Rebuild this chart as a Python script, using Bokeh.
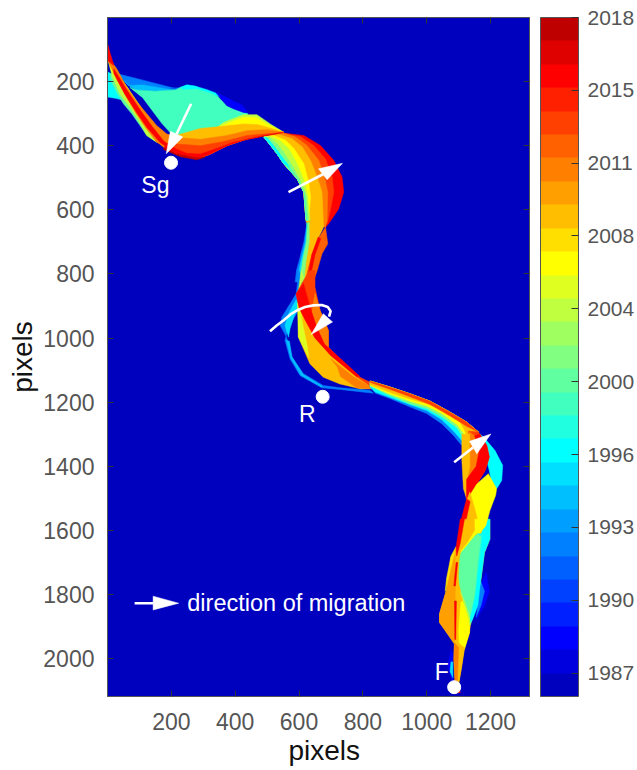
from bokeh.embed import file_html
from bokeh.resources import INLINE
from bokeh.plotting import figure
from bokeh.models import (ColumnDataSource, LinearColorMapper, ColorBar, FixedTicker, LinearAxis, Range1d, Title)
from bokeh.core.properties import value

# colour classes, oldest to newest (band 1 .. 29)
palette = ["#0000BF","#0000DF","#0000FF","#0020FF","#0040FF","#0060FF","#0080FF","#009FFF","#00BFFF","#00DFFF",
           "#00FFFF","#20FFDF","#40FFBF","#60FF9F","#80FF80","#9FFF60","#BFFF40","#DFFF20","#FFFF00","#FFDF00",
           "#FFBF00","#FF9F00","#FF8000","#FF6000","#FF4000","#FF2000","#FF0000","#DF0000","#BF0000"]
cbar_ticks = [1.5,4.61,7.72,10.83,13.94,17.06,20.17,23.28,26.39,29.5]
cbar_labels = ["1987","1990","1993","1996","2000","2004","2008","2011","2015","2018"]
x_ticks = [200,400,600,800,1000,1200]
y_ticks = [200,400,600,800,1000,1200,1400,1600,1800,2000]

# ---- upstream reach: old channel areas
a_blue = [(34,176),(90,190),(160,208),(222,224),(240,218),(185,222),(110,210),(65,212),(50,195)]
a_lblue = [(50,195),(65,212),(110,210),(185,222),(235,226),(150,230),(91,226),(70,215)]
a_teal = [(70,218),(91,226),(150,230),(213,226),(228,218),(249,212),(275,218),(291,223),(312,228),(338,238),(353,254),(374,275),(395,285),(426,296),(440,300),(426,320),(370,345),(290,355),(206,370),(170,330),(110,250)]
a_cyan = [(228,218),(249,210),(275,214),(291,219),(312,225),(345,238),(353,248),(320,234),(280,222),(237,224)]
a_dark = [(340,235),(375,250),(395,262),(420,272),(440,296),(426,296),(395,285),(374,275),(353,250)]
l_cyan = [(1,170),(40,190),(76,260),(50,258),(29,253),(1,248)]
l_green = [(8,175),(60,215),(120,310),(154,389),(123,368),(102,337),(76,300),(50,269),(30,235),(12,200)]
l_lime = [(1,130),(40,190),(75,240),(105,290),(145,350),(165,390),(154,389),(123,368),(100,325),(70,280),(40,240),(15,185)]
l_yellow = [(5,135),(60,215),(105,280),(150,355),(135,345),(105,310),(70,262),(35,205),(10,160)]
# ---- upstream reach: recent belt
low_a = [(552,358),(490,368),(437,379),(374,400),(322,426),(286,439),(239,431),(187,410),(150,384)]
b_lime = [(340,345),(364,327),(426,303),(468,303),(510,332),(552,358),(480,345),(400,340)]
b_yellow = [(350,342),(380,328),(426,311),(465,311),(500,332),(552,358),(470,345),(400,345)]
b_gold = [(206,370),(239,361),(291,346),(345,341),(390,336),(426,332),(470,334),(510,345)] + low_a
b_orange = [(225,375),(291,380),(374,368),(437,353),(500,350)] + low_a
b_rorange = [(207,394),(291,400),(364,387),(437,368)] + low_a
b_red = [(155,374),(202,405),(249,424),(291,426),(333,412),(395,389)] + low_a
b_dark = [(176,405),(228,428),(280,438),(305,436),(280,444),(228,434),(176,412)]
t_orange = [(1,120),(29,160),(60,217),(91,262),(123,300),(154,337),(185,363),(206,370),(176,405),(150,384),(120,345),(90,300),(60,250),(30,195),(1,135)]
t_red = [(20,160),(60,225),(100,285),(140,340),(176,385),(228,420),(215,425),(165,390),(125,345),(90,295),(55,240),(20,175)]
t_tip = [(1,85),(8,110),(20,150),(1,135)]

# ---- first bend
inner = [(622,633),(615,545),(594,503),(552,456),(531,425),(511,399),(490,373)]
c_red = [(552,361),(615,368),(667,399),(709,446),(735,498),(740,545),(724,597),(693,643),(683,654)] + inner
c_rorange = [(552,361),(604,371),(646,399),(683,441),(704,498),(709,545),(698,602),(688,643)] + inner
c_orange = [(552,361),(589,373),(625,399),(662,446),(680,498),(690,545),(688,633),(683,654)] + inner
c_gold = [(537,365),(578,378),(610,404),(636,446),(657,498),(672,545),(677,654),(662,685),(646,727),(630,779),(620,820),(612,820),(620,758),(630,700)] + inner
c_yellow = [(521,368),(558,383),(584,409),(615,456),(630,513),(636,560),(630,633)] + inner
c_lime = [(513,371),(542,385),(568,409),(594,456),(615,508),(627,555),(634,633)] + inner
c_green = [(505,373),(531,394),(552,420),(578,461),(604,508),(623,560),(630,633)] + inner
c_teal = [(495,375),(516,399),(537,425),(563,456),(599,508),(617,550),(625,633)] + inner
c_cyan0 = [(490,373),(500,375),(525,405),(545,432),(570,465),(552,456),(531,425),(511,399)]
c_blue = [(625,640),(615,700),(600,760),(592,789),(588,825),(600,825),(612,760),(622,700),(628,650)]
c_cyan = [(625,640),(620,700),(606,760),(600,789),(597,825),(606,825),(615,760),(625,700)]
c_green2 = [(627,640),(623,700),(611,760),(607,789),(604,825),(615,825),(622,760),(632,700),(632,640)]
d_strip = [(683,654),(690,706),(672,737),(657,789),(646,820),(620,820),(640,740),(660,690)]
d_stripred = [(668,690),(650,740),(635,810),(627,810),(640,740),(660,685)]

# ---- second bend
e_blue = [(600,789),(591,862),(572,893),(546,935),(541,961),(561,997),(577,1059),(614,1111),(676,1148),(728,1155),(822,1163),(833,1172),(728,1160),(671,1155),(603,1117),(572,1065),(556,1007),(567,966),(598,914),(603,800)]
e_cyan = [(591,880),(567,925),(556,961),(567,997),(572,970),(585,930),(600,900)]
e_cyan2 = [(570,1010),(578,1058),(612,1112),(672,1150),(672,1153),(606,1116),(574,1062),(560,1007)]
e_strip = [(607,789),(615,810),(600,855),(597,885),(597,860)]
e_lime = [(595,890),(598,997),(630,1060),(625,1020),(612,960),(603,905)]
e_rorange = [(614,820),(634,789),(650,789),(650,841),(666,914),(692,976),(692,1028),(728,1065),(791,1122),(833,1143),(833,1153),(791,1135),(728,1090),(676,1049),(634,976),(603,914),(591,862)]
e_orange = [(650,860),(666,914),(692,976),(692,1028),(668,1005),(655,960),(640,920)]
e_red = [(591,862),(614,830),(625,870),(640,920),(655,965),(680,1020),(728,1062),(791,1120),(780,1120),(700,1055),(650,1000),(620,945),(600,905)]
e_gold = [(600,905),(620,945),(650,1000),(700,1055),(780,1122),(833,1158),(791,1158),(728,1143),(676,1122),(634,1080),(598,997),(598,914)]
e_orange2 = [(700,1065),(770,1120),(833,1158),(780,1155),(730,1120),(720,1090)]

# ---- long straight to third bend
upper = [(823,1134),(886,1153),(948,1174),(1011,1197),(1073,1231),(1125,1262),(1162,1293)]
f_blue = upper + [(1110,1335),(1084,1304),(1047,1267),(1000,1235),(948,1215),(886,1189),(839,1172),(823,1153)]
f_cyan = upper + [(1115,1325),(1084,1290),(1047,1254),(1000,1226),(948,1208),(886,1185),(839,1168),(823,1153)]
f_green = upper + [(1120,1320),(1095,1280),(1047,1245),(1000,1220),(948,1205),(886,1180),(823,1150)]
f_yellow = upper + [(1125,1310),(1095,1270),(1047,1235),(1000,1212),(948,1197),(886,1175),(823,1148)]
f_gold = upper + [(1130,1310),(1105,1262),(1060,1230),(1000,1205),(948,1190),(886,1170),(823,1145)]
f_rorange = upper + [(1125,1275),(1073,1243),(1011,1207),(948,1183),(886,1160),(823,1138)]
g_cyan = [(1183,1314),(1214,1351),(1238,1397),(1235,1444),(1219,1470),(1204,1455),(1196,1413),(1167,1299)]
g_gold = [(1110,1300),(1135,1300),(1135,1400),(1125,1450),(1125,1500),(1115,1470),(1110,1380)]
g_rorange = [(1162,1293),(1188,1335),(1196,1371),(1183,1413),(1157,1455),(1125,1507),(1120,1470),(1131,1400),(1135,1340),(1130,1290)]
g_orange = [(1130,1290),(1150,1305),(1165,1350),(1155,1400),(1125,1440),(1120,1470),(1131,1400),(1135,1340)]
g_red = [(1167,1299),(1188,1335),(1196,1371),(1183,1413),(1157,1455),(1125,1507),(1125,1440),(1155,1400),(1165,1350),(1150,1305)]
h_yellow = [(1125,1507),(1157,1455),(1193,1423),(1219,1470),(1216,1490),(1198,1538),(1185,1585),(1165,1610),(1140,1631),(1120,1631),(1130,1560)]
h_gold = [(1125,1507),(1135,1480),(1150,1530),(1165,1590),(1150,1631),(1120,1631)]
h_red = [(1125,1501),(1136,1510),(1125,1560),(1118,1631),(1107,1631),(1107,1570)]

# ---- downstream reach
k_sil = [(1107,1565),(1097,1653),(1076,1685),(1061,1789),(1040,1861),(1040,1887),(1087,1950),(1085,2000),(1090,2095),(1097,2095),(1108,2033),(1118,1971),(1134,1919),(1137,1895),(1150,1850),(1170,1752),(1181,1669),(1198,1627),(1198,1565)]
k_halo = [(1186,1731),(1196,1789),(1181,1835),(1155,1877),(1170,1770)]
k_halo2 = [(1170,1760),(1181,1790),(1170,1835),(1155,1870)]
k_cyan = [(1181,1565),(1198,1565),(1198,1627),(1181,1669),(1170,1752),(1160,1835),(1144,1877),(1134,1898),(1129,1877),(1150,1800),(1160,1700),(1170,1620)]
k_green = [(1102,1674),(1149,1617),(1160,1610),(1170,1620),(1160,1700),(1150,1800),(1134,1877),(1120,1840),(1102,1765),(1097,1700)]
k_teal = [(1160,1610),(1175,1610),(1165,1700),(1152,1800),(1140,1860),(1150,1780),(1158,1700)]
k_yellow = [(1092,1835),(1113,1820),(1134,1877),(1134,1919),(1118,1971),(1102,1950),(1097,1877)]
k_lime = [(1105,1790),(1120,1825),(1134,1870),(1137,1895),(1115,1820)]
k_yellow2 = [(1102,1674),(1149,1617),(1175,1590),(1181,1565),(1149,1565),(1118,1607)]
k_gold = [(1118,1565),(1149,1565),(1150,1600),(1125,1640),(1100,1670),(1100,1620)]
k_orange = [(1076,1685),(1092,1653),(1087,1716),(1097,1773),(1087,1955),(1040,1887),(1040,1861),(1061,1789),(1071,1742)]
k_edge = [(1076,1680),(1092,1650),(1070,1742),(1058,1790),(1062,1750)]
k_gold2 = [(1092,1653),(1110,1640),(1102,1690),(1097,1760),(1105,1830),(1095,1950),(1090,1950)]
k_red = [(1105,1565),(1118,1565),(1105,1640),(1094,1680),(1092,1653)]
k_red2 = [(1092,1700),(1097,1700),(1090,1773),(1085,1773)]
k_red3 = [(1087,1820),(1093,1820),(1091,1940),(1088,1940)]
m_gold = [(1087,1945),(1118,1965),(1108,2033),(1097,2095),(1092,2095)]
m_orange = [(1087,1950),(1100,1965),(1095,2095),(1090,2095),(1085,2000)]
m_tip = [(1092,2080),(1100,2080),(1105,2106),(1085,2106)]
m_halo = [(1076,1971),(1082,1990),(1082,2080),(1066,2023)]
m_cyan = [(1076,2010),(1082,2010),(1082,2060),(1073,2040)]

regions = [(7,a_blue),(9,a_lblue),(13,a_teal),(11,a_cyan),(3,a_dark),
           (11,l_cyan),(14,l_green),(17,l_lime),(19,l_yellow),
           (17,b_lime),(19,b_yellow),(21,b_gold),(23,b_orange),(25,b_rorange),(27,b_red),(29,b_dark),
           (23,t_orange),(27,t_red),(27,t_tip),
           (27,c_red),(25,c_rorange),(23,c_orange),(21,c_gold),(19,c_yellow),(17,c_lime),(15,c_green),(13,c_teal),(11,c_cyan0),
           (7,c_blue),(10,c_cyan),(15,c_green2),
           (24,d_strip),(27,d_stripred),
           (7,e_blue),(10,e_cyan),(9,e_cyan2),(17,e_strip),(25,e_rorange),(23,e_orange),(21,e_gold),(18,e_lime),(27,e_red),(23,e_orange2),
           (7,f_blue),(11,f_cyan),(15,f_green),(19,f_yellow),(21,f_gold),(25,f_rorange),
           (3,k_halo),(7,k_halo2),(21,k_sil),(11,k_cyan),
           (11,g_cyan),(25,g_rorange),(23,g_orange),(21,g_gold),(27,g_red),
           (19,h_yellow),(21,h_gold),(27,h_red),
           (12,k_teal),(14,k_green),(19,k_yellow),(17,k_lime),(19,k_yellow2),(21,k_gold),
           (22,k_orange),(20,k_edge),(21,k_gold2),(27,k_red),(27,k_red2),(27,k_red3),
           (3,m_halo),(10,m_cyan),(21,m_gold),(23,m_orange),(27,m_tip)]

# ---- annotations
site_x = [199,674,1086]
site_y = [453,1183,2089]
site_names = ["Sg","R","F"]
name_x = [106,600,1025]
name_y = [521,1236,2042]
arrow_lines = [([262,216],[269,364]),([567,675],[545,489]),([1086,1145],[1387,1341]),([85,143],[1827,1827]),
               ([509,530,551,572,593,619,645,671,690,699,694],[979,961,945,927,914,903,898,897,903,916,933])]
arrow_heads = [([184,197,236],[425,355,373]),([736,661,688],[455,472,506]),([1201,1134,1157],[1299,1322,1361]),
               ([223,143,143],[1827,1805,1848]),([638,676,705],[989,924,950])]
legend_text = "direction of migration"

FONT = "Liberation Sans"
GREY = "#555555"

p = figure(width=637, height=770, output_backend="svg", toolbar_location=None,
           x_range=Range1d(0, 1322), y_range=Range1d(2118, 0),
           min_border_left=107, min_border_right=108, min_border_top=17, min_border_bottom=74,
           background_fill_color=palette[0], border_fill_color="white", outline_line_color=GREY)
p.xgrid.visible = False
p.ygrid.visible = False

for ax, ticks in ((p.xaxis[0], x_ticks), (p.yaxis[0], y_ticks)):
    ax.ticker = FixedTicker(ticks=ticks)
    ax.major_tick_in = 6
    ax.major_tick_out = 0
    ax.minor_tick_in = 0
    ax.minor_tick_out = 0
    ax.major_tick_line_color = "#333333"
    ax.axis_line_color = GREY
    ax.major_label_text_font = FONT
    ax.major_label_text_font_size = "23px"
    ax.major_label_text_color = GREY
p.yaxis[0].axis_label = "pixels"
p.yaxis[0].axis_label_text_font = FONT
p.yaxis[0].axis_label_text_font_size = "28px"
p.yaxis[0].axis_label_text_font_style = "normal"
p.yaxis[0].axis_label_text_color = "#111111"
p.xaxis[0].major_label_standoff = 16
p.yaxis[0].major_label_standoff = 13
p.yaxis[0].axis_label_standoff = 2
p.add_layout(Title(text="pixels", align="left", offset=181, standoff=0, text_font=FONT, text_font_size="28px",
                   text_font_style="normal", text_color="#111111"), "below")

for side, ticks in (("above", x_ticks), ("right", y_ticks)):
    a = LinearAxis(ticker=FixedTicker(ticks=ticks), major_tick_in=6, major_tick_out=0,
                   minor_tick_in=0, minor_tick_out=0, major_tick_line_color="#333333",
                   axis_line_color=GREY, major_label_standoff=0,
                   major_label_text_font_size="0px",
                   major_label_overrides={t: "" for t in ticks})
    p.add_layout(a, side)

mapper = LinearColorMapper(palette=palette, low=0.5, high=29.5)
src = ColumnDataSource(dict(xs=[[q[0] for q in r[1]] for r in regions],
                            ys=[[q[1] for q in r[1]] for r in regions],
                            band=[r[0] for r in regions]))
cm = {"field": "band", "transform": mapper}
p.patches("xs", "ys", source=src, fill_color=cm, line_color=cm, line_width=0.5)

for xs, ys in arrow_lines:
    p.line(xs, ys, line_color="white", line_width=2.6)
for xs, ys in arrow_heads:
    p.patch(xs, ys, fill_color="white", line_color="white", line_width=0.5)
p.scatter(site_x, site_y, size=13, marker="circle", fill_color="white", line_color="white")
p.text(name_x, name_y, text=site_names, text_color="white", text_font=value(FONT),
       text_font_size="23px", text_align="left", text_baseline="middle")
p.text([250], [1825], text=[legend_text], text_color="white", text_font=value(FONT),
       text_font_size="23.5px", text_align="left", text_baseline="middle")

cb = ColorBar(color_mapper=mapper, width=38, height=679, padding=0, margin=0,
              location=(11, 0),
              ticker=FixedTicker(ticks=cbar_ticks),
              major_label_overrides=dict(zip(cbar_ticks, cbar_labels)),
              major_tick_in=7, major_tick_line_color="#333333", minor_tick_in=0,
              bar_line_color=GREY, label_standoff=9,
              major_label_text_font=FONT, major_label_text_font_size="21px",
              major_label_text_color=GREY, background_fill_alpha=0)
p.add_layout(cb, "right")

open("out.html", "w").write(file_html(p, INLINE))
